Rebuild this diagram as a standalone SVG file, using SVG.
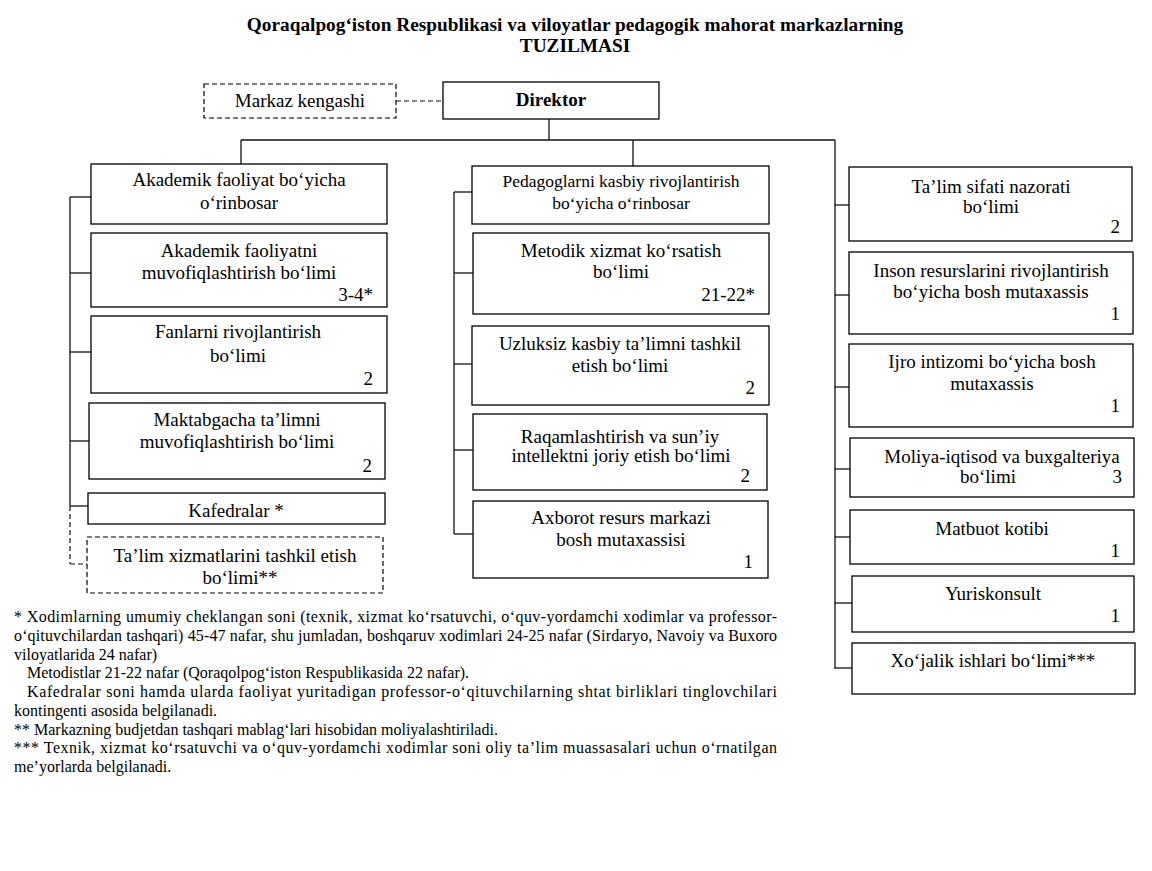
<svg xmlns="http://www.w3.org/2000/svg" width="1152" height="871" viewBox="0 0 1152 871">
<style>
.box{fill:#fff;stroke:#000;stroke-width:1.3}
.dbox{fill:#fff;stroke:#000;stroke-width:1.2;stroke-dasharray:5 3}
.ln{stroke:#111;stroke-width:1.3;fill:none}
.dl{stroke:#111;stroke-width:1.2;fill:none;stroke-dasharray:5 3}
text{font-family:'Liberation Serif','Times New Roman',Times,serif;fill:#000}
.t{font-size:19px;text-anchor:middle}
.s{font-size:17.5px;text-anchor:middle}
.n{font-size:19px;text-anchor:end}
.h{font-size:19.3px;font-weight:bold;text-anchor:middle}
.fn{font-size:16px}
</style>
<rect width="1152" height="871" fill="#fff"/>
<g id="title">
<text class="h" x="575" y="31">Qoraqalpog‘iston Respublikasi va viloyatlar pedagogik mahorat markazlarning</text>
<text class="h" x="575" y="52">TUZILMASI</text>
</g>
<g id="connectors">
<line class="dl" x1="396" y1="101" x2="443" y2="101"/>
<line class="ln" x1="549" y1="119" x2="549" y2="140"/>
<line class="ln" x1="241" y1="140" x2="835" y2="140"/>
<line class="ln" x1="241" y1="140" x2="241" y2="164"/>
<line class="ln" x1="633" y1="140" x2="633" y2="166"/>
<line class="ln" x1="835" y1="140" x2="835" y2="669"/>
<line class="ln" x1="70" y1="197" x2="70" y2="506"/>
<line class="dl" x1="70" y1="506" x2="70" y2="564"/>
<line class="ln" x1="70" y1="197" x2="91" y2="197"/>
<line class="ln" x1="70" y1="273" x2="91" y2="273"/>
<line class="ln" x1="70" y1="352" x2="91" y2="352"/>
<line class="ln" x1="70" y1="441" x2="89" y2="441"/>
<line class="ln" x1="70" y1="506" x2="88" y2="506"/>
<line class="dl" x1="70" y1="564" x2="87" y2="564"/>
<line class="ln" x1="454" y1="192" x2="454" y2="534"/>
<line class="ln" x1="454" y1="192" x2="472" y2="192"/>
<line class="ln" x1="454" y1="273" x2="473" y2="273"/>
<line class="ln" x1="454" y1="364" x2="472" y2="364"/>
<line class="ln" x1="454" y1="450" x2="473" y2="450"/>
<line class="ln" x1="454" y1="534" x2="473" y2="534"/>
<line class="ln" x1="835" y1="205" x2="849" y2="205"/>
<line class="ln" x1="835" y1="295" x2="849" y2="295"/>
<line class="ln" x1="835" y1="387" x2="849" y2="387"/>
<line class="ln" x1="835" y1="469" x2="850" y2="469"/>
<line class="ln" x1="835" y1="537" x2="850" y2="537"/>
<line class="ln" x1="835" y1="603" x2="852" y2="603"/>
<line class="ln" x1="835" y1="668" x2="852" y2="668"/>
</g>
<g id="markaz-kengashi">
<rect class="dbox" x="204" y="84" width="192" height="34"/>
<text class="t" x="300" y="107">Markaz kengashi</text>
</g>
<g id="direktor">
<rect class="box" x="443" y="82" width="216" height="37"/>
<text class="t" x="551" y="106" font-weight="bold" font-size="17.5">Direktor</text>
</g>
<g id="akademik-orinbosar">
<rect class="box" x="91" y="164" width="296" height="60"/>
<text class="t" x="239" y="186">Akademik faoliyat bo‘yicha</text>
<text class="t" x="239" y="209">o‘rinbosar</text>
</g>
<g id="akademik-muvofiq">
<rect class="box" x="91" y="233" width="296" height="74"/>
<text class="t" x="239" y="257">Akademik faoliyatni</text>
<text class="t" x="239" y="279">muvofiqlashtirish bo‘limi</text>
<text class="n" x="373" y="301">3-4*</text>
</g>
<g id="fanlar">
<rect class="box" x="91" y="316" width="296" height="77"/>
<text class="t" x="238" y="338">Fanlarni rivojlantirish</text>
<text class="t" x="238" y="362">bo‘limi</text>
<text class="n" x="373" y="385">2</text>
</g>
<g id="maktabgacha">
<rect class="box" x="89" y="403" width="296" height="76"/>
<text class="t" x="237" y="426">Maktabgacha ta’limni</text>
<text class="t" x="237" y="448">muvofiqlashtirish bo‘limi</text>
<text class="n" x="372" y="472">2</text>
</g>
<g id="kafedralar">
<rect class="box" x="88" y="493" width="297" height="31"/>
<text class="t" x="236" y="517">Kafedralar *</text>
</g>
<g id="talim-xizmatlari">
<rect class="dbox" x="87" y="537" width="296" height="56"/>
<text class="t" x="235" y="562">Ta’lim xizmatlarini tashkil etish</text>
<text class="t" x="240" y="584">bo‘limi**</text>
</g>
<g id="pedagog-orinbosar">
<rect class="box" x="472" y="166" width="297" height="58"/>
<text class="s" x="621" y="187">Pedagoglarni kasbiy rivojlantirish</text>
<text class="s" x="621" y="209">bo‘yicha o‘rinbosar</text>
</g>
<g id="metodik">
<rect class="box" x="473" y="233" width="296" height="81"/>
<text class="t" x="621" y="257">Metodik xizmat ko‘rsatish</text>
<text class="t" x="621" y="278">bo‘limi</text>
<text class="n" x="755" y="301">21-22*</text>
</g>
<g id="uzluksiz">
<rect class="box" x="472" y="326" width="297" height="79"/>
<text class="t" x="620" y="350">Uzluksiz kasbiy ta’limni tashkil</text>
<text class="t" x="620" y="372">etish bo‘limi</text>
<text class="n" x="755" y="394">2</text>
</g>
<g id="raqamlashtirish">
<rect class="box" x="473" y="414" width="294" height="76"/>
<text class="t" x="620" y="443">Raqamlashtirish va sun’iy</text>
<text class="t" x="621" y="462">intellektni joriy etish bo‘limi</text>
<text class="n" x="750" y="482">2</text>
</g>
<g id="axborot">
<rect class="box" x="473" y="501" width="295" height="77"/>
<text class="t" x="621" y="524">Axborot resurs markazi</text>
<text class="t" x="621" y="546">bosh mutaxassisi</text>
<text class="n" x="753" y="568">1</text>
</g>
<g id="talim-sifati">
<rect class="box" x="849" y="167" width="283" height="74"/>
<text class="t" x="991" y="193">Ta’lim sifati nazorati</text>
<text class="t" x="991" y="213">bo‘limi</text>
<text class="n" x="1120" y="233">2</text>
</g>
<g id="inson-resurslari">
<rect class="box" x="849" y="252" width="284" height="82"/>
<text class="t" x="991" y="277">Inson resurslarini rivojlantirish</text>
<text class="t" x="991" y="298">bo‘yicha bosh mutaxassis</text>
<text class="n" x="1120" y="320">1</text>
</g>
<g id="ijro-intizomi">
<rect class="box" x="849" y="344" width="284" height="83"/>
<text class="t" x="992" y="368">Ijro intizomi bo‘yicha bosh</text>
<text class="t" x="992" y="390">mutaxassis</text>
<text class="n" x="1120" y="412">1</text>
</g>
<g id="moliya">
<rect class="box" x="850" y="438" width="284" height="59"/>
<text class="t" x="1002" y="463">Moliya-iqtisod va buxgalteriya</text>
<text class="t" x="988" y="483">bo‘limi</text>
<text class="n" x="1122" y="483">3</text>
</g>
<g id="matbuot">
<rect class="box" x="850" y="510" width="284" height="54"/>
<text class="t" x="992" y="535">Matbuot kotibi</text>
<text class="n" x="1120" y="557">1</text>
</g>
<g id="yuriskonsult">
<rect class="box" x="852" y="576" width="282" height="56"/>
<text class="t" x="993" y="600">Yuriskonsult</text>
<text class="n" x="1120" y="622">1</text>
</g>
<g id="xojalik">
<rect class="box" x="852" y="643" width="283" height="51"/>
<text class="t" x="993" y="667">Xo‘jalik ishlari bo‘limi***</text>
</g>
<g id="footnotes">
<text class="fn" x="14" y="622" textLength="763" lengthAdjust="spacing">* Xodimlarning umumiy cheklangan soni (texnik, xizmat ko‘rsatuvchi, o‘quv-yordamchi xodimlar va professor-</text>
<text class="fn" x="14" y="641" textLength="763" lengthAdjust="spacing">o‘qituvchilardan tashqari) 45-47 nafar, shu jumladan, boshqaruv xodimlari 24-25 nafar (Sirdaryo, Navoiy va Buxoro</text>
<text class="fn" x="14" y="659.5">viloyatlarida 24 nafar)</text>
<text class="fn" x="27" y="678">Metodistlar 21-22 nafar (Qoraqolpog‘iston Respublikasida 22 nafar).</text>
<text class="fn" x="27" y="697" textLength="750" lengthAdjust="spacing">Kafedralar soni hamda ularda faoliyat yuritadigan professor-o‘qituvchilarning shtat birliklari tinglovchilari</text>
<text class="fn" x="14" y="716">kontingenti asosida belgilanadi.</text>
<text class="fn" x="14" y="734.5">** Markazning budjetdan tashqari mablag‘lari hisobidan moliyalashtiriladi.</text>
<text class="fn" x="14" y="753" textLength="763" lengthAdjust="spacing">*** Texnik, xizmat ko‘rsatuvchi va o‘quv-yordamchi xodimlar soni oliy ta’lim muassasalari uchun o‘rnatilgan</text>
<text class="fn" x="14" y="772">me’yorlarda belgilanadi.</text>
</g>
</svg>
